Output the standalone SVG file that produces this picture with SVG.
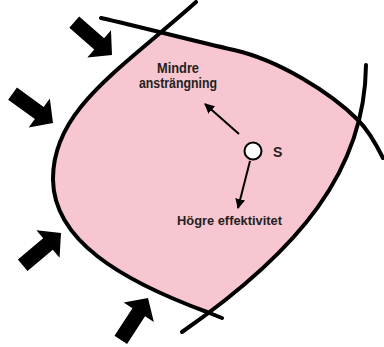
<svg xmlns="http://www.w3.org/2000/svg" width="384" height="347" viewBox="0 0 384 347">
<style>
.curve{fill:none;stroke:#000;stroke-width:4;stroke-linecap:round}
.lbl{font-family:"Liberation Sans",Arial,sans-serif;font-weight:bold;fill:#231f20}
.ptr{fill:none;stroke:#000;stroke-width:2}
.blk{fill:#000}
</style>
<defs>
<marker id="ah" viewBox="0 0 10 10" refX="9" refY="5" markerWidth="5" markerHeight="5" orient="auto" markerUnits="strokeWidth">
<path d="M0,0 L10,5 L0,10 Z" fill="#000"/>
</marker>
<path id="bigArrow" d="M0,0 L-17,-18 L-17,-7.5 L-50,-7.5 L-50,7.5 L-17,7.5 L-17,18 Z"/>
<clipPath id="cA"><path d="M196,2 C120,70 52,110 53,180 C54,240 120,280 207,312 L222,318 L400,400 L400,-10 L200,-10 Z"/></clipPath>
<clipPath id="cB"><path d="M366,65 C365,170 300,250 182,332 L100,400 L-10,400 L-10,-10 L370,-10 Z"/></clipPath>
<clipPath id="cC"><path d="M101,18 C145,28 190,40 234,50 C278,60 330,92 358,120 C368,130 376,144 383,158 L400,400 L-10,400 L-10,-5 Z"/></clipPath>
</defs>
<rect width="384" height="347" fill="#fff"/>
<g id="region">
<g clip-path="url(#cC)"><g clip-path="url(#cB)"><g clip-path="url(#cA)">
<rect width="384" height="347" fill="#f7c6d0"/>
</g></g></g>
</g>
<g id="boundaries">
<path id="left-curve" class="curve" d="M196,2 C120,70 52,110 53,180 C54,240 120,280 207,312 L222,318"/>
<path id="top-curve" class="curve" d="M101,18 C145,28 190,40 234,50 C278,60 330,92 358,120 C368,130 376,144 383,158"/>
<path id="right-curve" class="curve" d="M366,65 C365,170 300,250 182,332"/>
</g>
<g id="pressure-arrows">
<use href="#bigArrow" class="blk" transform="translate(112,55) rotate(41)"/>
<use href="#bigArrow" class="blk" transform="translate(53,123) rotate(36)"/>
<use href="#bigArrow" class="blk" transform="translate(61,233) rotate(-40)"/>
<use href="#bigArrow" class="blk" transform="translate(148,298) rotate(-57)"/>
</g>
<g id="connectors">
<line class="ptr" x1="239" y1="134" x2="205" y2="104" marker-end="url(#ah)"/>
<line class="ptr" x1="250" y1="161" x2="238" y2="208" marker-end="url(#ah)"/>
</g>
<g id="node-S">
<circle cx="253" cy="151" r="8.5" fill="#fff" stroke="#000" stroke-width="2"/>
<text class="lbl" x="273" y="157" font-size="14">S</text>
</g>
<g id="label-mindre">
<text class="lbl" x="178" y="73" font-size="14" text-anchor="middle" textLength="42" lengthAdjust="spacingAndGlyphs">Mindre</text>
<text class="lbl" x="178" y="87.5" font-size="14" text-anchor="middle" textLength="78" lengthAdjust="spacingAndGlyphs">ansträngning</text>
</g>
<g id="label-hogre">
<text class="lbl" x="229.5" y="225" font-size="13" text-anchor="middle" textLength="105" lengthAdjust="spacingAndGlyphs">Högre effektivitet</text>
</g>
</svg>
